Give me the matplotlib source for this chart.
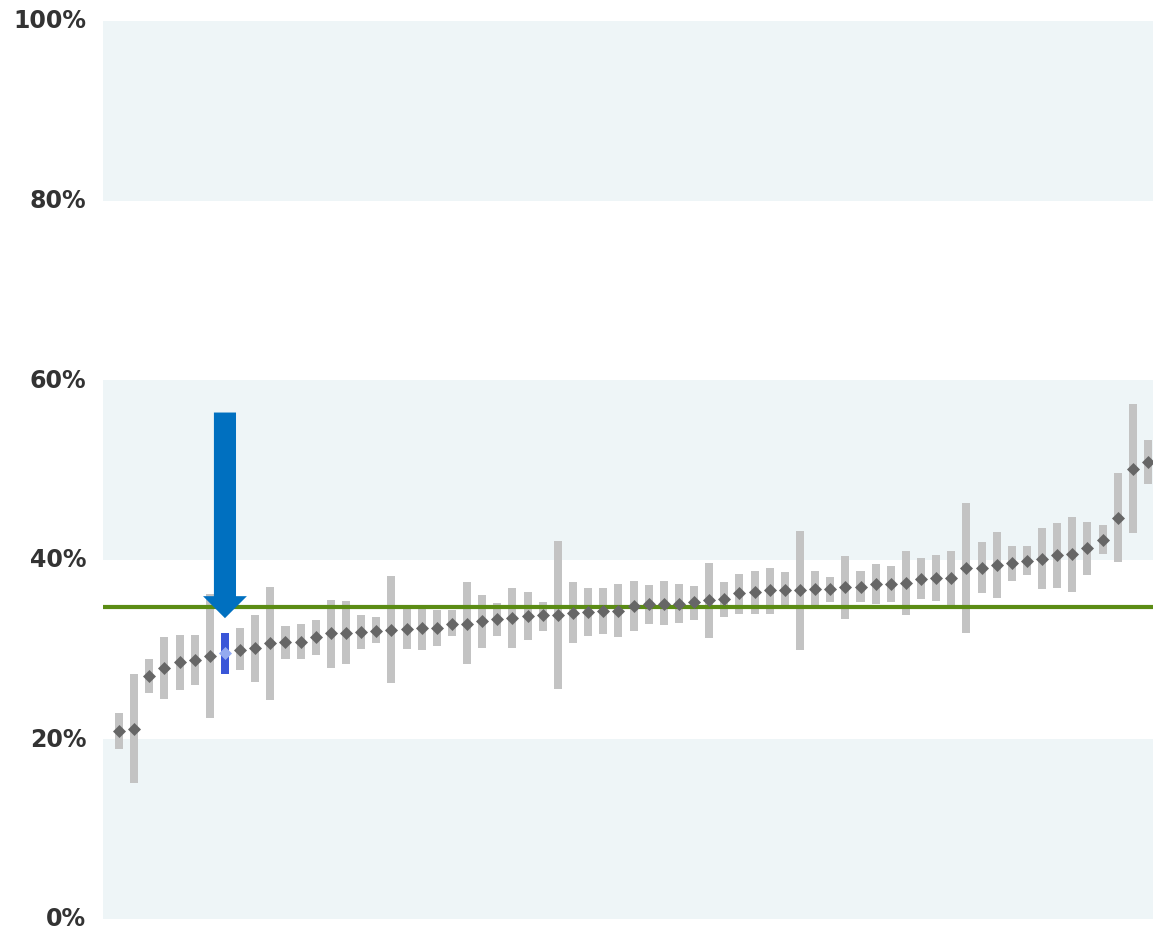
import matplotlib
matplotlib.use("Agg")
import matplotlib.pyplot as plt
from matplotlib.patches import FancyArrow
from matplotlib.transforms import ScaledTranslation

# Point estimates (%) with lower / upper bounds, sorted by estimate
estimates = [20.9, 21.2, 27.1, 28.0, 28.6, 28.8, 29.3, 29.6, 30.0, 30.2,
             30.7, 30.8, 30.8, 31.4, 31.8, 31.9, 32.0, 32.1, 32.2, 32.3,
             32.4, 32.4, 32.9, 32.9, 33.2, 33.4, 33.5, 33.7, 33.8, 33.9,
             34.1, 34.2, 34.3, 34.3, 34.9, 35.1, 35.1, 35.1, 35.3, 35.5,
             35.6, 36.3, 36.4, 36.6, 36.6, 36.6, 36.7, 36.8, 37.0, 37.0,
             37.3, 37.3, 37.4, 37.9, 38.0, 38.0, 39.1, 39.1, 39.4, 39.6,
             39.9, 40.1, 40.5, 40.6, 41.3, 42.2, 44.7, 50.1, 50.9]
lower = [18.9, 15.2, 25.2, 24.5, 25.5, 26.1, 22.4, 27.3, 27.7, 26.4,
         24.4, 29.0, 28.9, 29.4, 28.0, 28.4, 30.1, 30.7, 26.3, 30.1,
         30.0, 30.4, 31.5, 28.4, 30.2, 31.5, 30.2, 31.1, 32.1, 25.6,
         30.7, 31.5, 31.7, 31.4, 32.1, 32.9, 32.7, 33.0, 33.3, 31.3,
         33.6, 34.0, 34.0, 34.0, 34.9, 30.0, 34.9, 35.3, 33.4, 35.3,
         35.1, 35.3, 33.9, 35.6, 35.4, 34.9, 31.9, 36.3, 35.7, 37.6,
         38.3, 36.7, 36.9, 36.4, 38.3, 40.6, 39.8, 43.0, 48.4]
upper = [22.9, 27.3, 28.9, 31.4, 31.6, 31.6, 36.2, 31.9, 32.4, 33.9,
         37.0, 32.6, 32.9, 33.3, 35.5, 35.4, 33.8, 33.6, 38.2, 34.6,
         34.6, 34.4, 34.4, 37.5, 36.1, 35.2, 36.9, 36.4, 35.3, 42.1,
         37.5, 36.9, 36.9, 37.3, 37.6, 37.2, 37.6, 37.3, 37.1, 39.6,
         37.5, 38.4, 38.8, 39.1, 38.6, 43.2, 38.7, 38.1, 40.4, 38.7,
         39.5, 39.3, 41.0, 40.2, 40.5, 41.0, 46.3, 42.0, 43.1, 41.5,
         41.5, 43.5, 44.1, 44.8, 44.2, 43.9, 49.7, 57.3, 53.3]
highlight_index = 7
reference_level = 34.7
y_ticks = [0, 20, 40, 60, 80, 100]
tick_labels = ["0%", "20%", "40%", "60%", "80%", "100%"]

fig = plt.figure(figsize=(11.53, 9.31), dpi=100)
ax = fig.add_axes([103 / 1153, 12 / 931, 1050 / 1153, 898 / 931])

n = len(estimates)
xs = list(range(n))

# Alternating horizontal bands
for lo in (0, 40, 80):
    ax.axhspan(lo, lo + 20, color="#EEF5F7", zorder=0, lw=0)

# Range bars
bar_colors = ["#3A56D8" if i == highlight_index else "#C3C3C3" for i in xs]
ax.bar(xs, [u - l for u, l in zip(upper, lower)], bottom=lower,
       width=0.53, color=bar_colors, zorder=2, linewidth=0)

# Reference line
ax.axhline(reference_level, color="#5B8C14", lw=3, zorder=3)

# Point estimates
others = [i for i in xs if i != highlight_index]
ax.scatter(others, [estimates[i] for i in others], marker="D", s=44,
           color="#666666", zorder=4, linewidths=0)
ax.scatter([highlight_index], [estimates[highlight_index]], marker="D", s=44,
           color="#93AAF0", zorder=4, linewidths=0)

# Pointer arrow above the highlighted unit
arrow_top, arrow_tip = 56.4, 33.5
ax.add_patch(FancyArrow(highlight_index, arrow_top, 0, arrow_tip - arrow_top,
                        width=1.46, head_width=2.9, head_length=2.45,
                        length_includes_head=True, color="#0070C0",
                        lw=0, zorder=5))

ax.set_xlim(-1.06, 68.33)
ax.set_ylim(0, 100)
ax.set_yticks(y_ticks)
ax.set_yticklabels(tick_labels)
ax.set_xticks([])
ax.tick_params(axis="y", length=0, pad=12, labelsize=17, labelcolor="#333333")
lift = ScaledTranslation(0, 2 / 100, fig.dpi_scale_trans)
for lab in ax.get_yticklabels():
    lab.set_fontweight("bold")
    lab.set_transform(lab.get_transform() + lift)
for s in ax.spines.values():
    s.set_visible(False)

fig.savefig("out.png", dpi=100)
